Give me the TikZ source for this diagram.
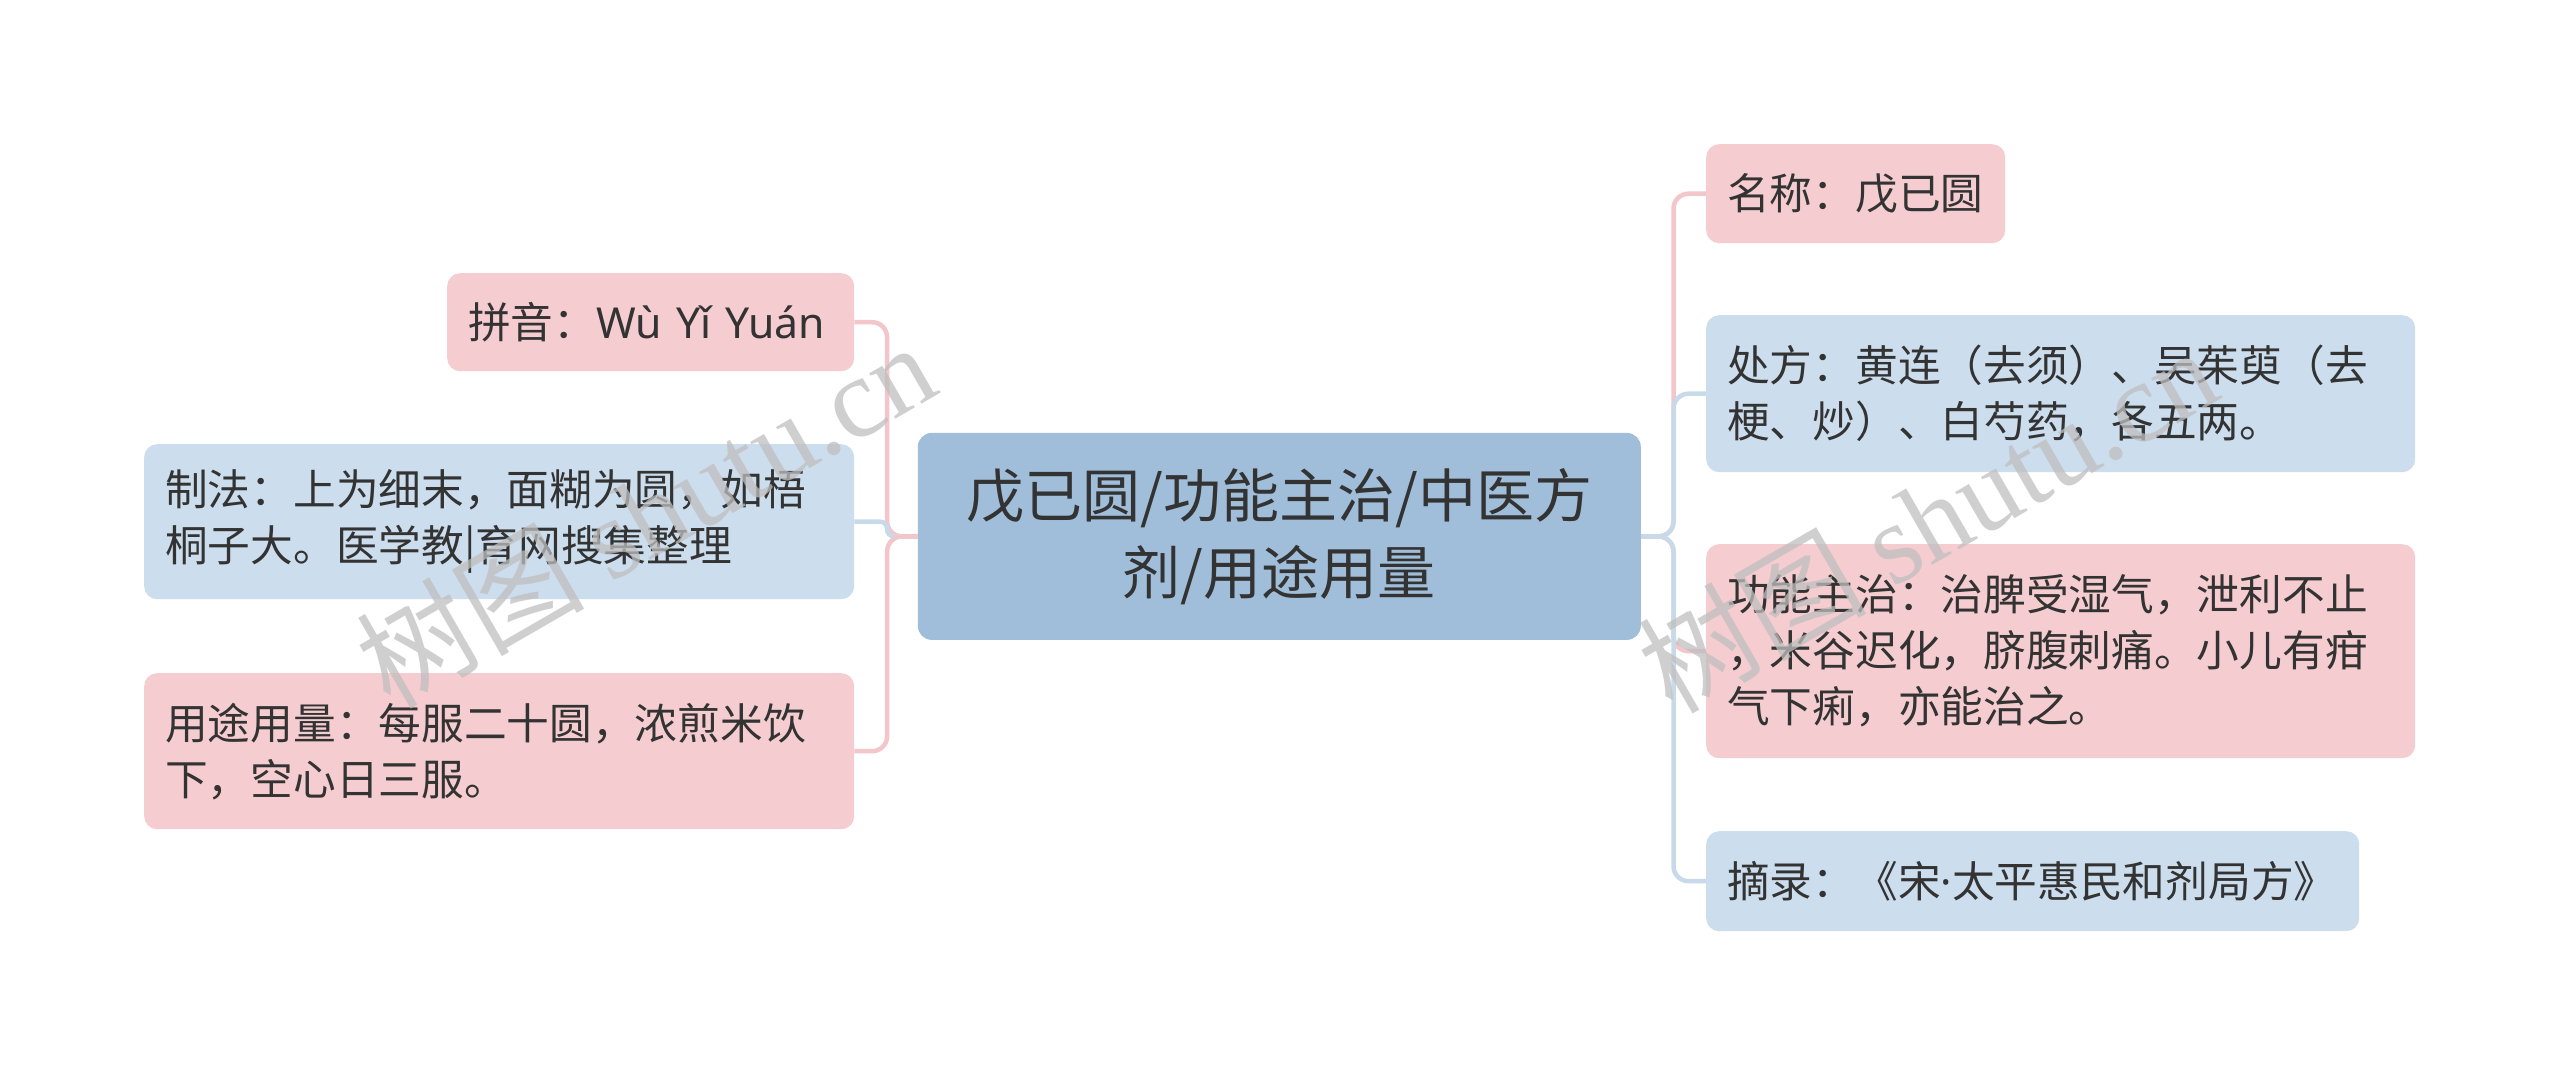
\documentclass[tikz,border=0pt]{standalone}
\usepackage{fontspec}
\setmainfont{Noto Sans CJK SC}
\newfontfamily\wmlatin{Liberation Serif}
\newfontfamily\latinsans{Noto Sans}
\usetikzlibrary{calc}
\definecolor{pinkfill}{HTML}{F5CDD0}
\definecolor{bluefill}{HTML}{CCDDED}
\definecolor{mainfill}{HTML}{A0BED9}
\definecolor{pinkline}{HTML}{F2C6CA}
\definecolor{blueline}{HTML}{C8DAEA}
\definecolor{txt}{HTML}{333333}
\tikzset{
  leaf/.style={rounded corners=13pt, inner xsep=21pt, inner ysep=0pt, align=left,
    anchor=north west, text=txt, font=\fontsize{42.7pt}{56pt}\selectfont},
  pinkleaf/.style={leaf, fill=pinkfill},
  blueleaf/.style={leaf, fill=bluefill},
  mainbox/.style={rounded corners=14pt, fill=mainfill, align=center, text=txt,
    font=\fontsize{58pt}{77pt}\selectfont},
  pinkconn/.style={draw=pinkline, line width=4.5pt, rounded corners=15pt},
  blueconn/.style={draw=blueline, line width=4.5pt, rounded corners=15pt},
  wmark/.style={text=black!25, opacity=0.75, rotate=30, font=\fontsize{114pt}{114pt}\selectfont}
}
\begin{document}
\begin{tikzpicture}[x=1pt,y=-1pt]
\useasboundingbox[fill=white] (0,0) rectangle (2560,1075);
% central
\node[mainbox, minimum width=723pt, minimum height=207pt] (c) at (1279.3,536.4)
  {戊已圆/功能主治/中医方\\剂/用途用量};
% left
\node[pinkleaf, minimum width=407pt, minimum height=98pt, text width=365pt] (py) at (447,273)
  {拼音：{\latinsans Wù Yǐ Yuán}};
\node[blueleaf, minimum width=710pt, minimum height=155pt, text width=668pt] (zf) at (144,444)
  {制法：上为细末，面糊为圆，如梧\\桐子大。医学教|育网搜集整理};
\node[pinkleaf, minimum width=710pt, minimum height=156pt, text width=668pt] (yt) at (144,673)
  {用途用量：每服二十圆，浓煎米饮\\下，空心日三服。};
% right
\node[pinkleaf, minimum width=299pt, minimum height=99pt, text width=257pt] (mc) at (1706,144)
  {名称：戊已圆};
\node[blueleaf, minimum width=709pt, minimum height=157pt, text width=667pt] (cf) at (1706,315)
  {处方：黄连（去须）、吴茱萸（去\\梗、炒）、白芍药，各五两。};
\node[pinkleaf, minimum width=709pt, minimum height=214pt, text width=667pt] (gn) at (1706,544)
  {功能主治：治脾受湿气，泄利不止\\，米谷迟化，脐腹刺痛。小儿有疳\\气下痢，亦能治之。};
\node[blueleaf, minimum width=653pt, minimum height=100pt, text width=611pt] (zl) at (1706,831)
  {摘录：《宋{\latinsans ·}太平惠民和剂局方》};
% connectors left
\draw[pinkconn] (c.west) -| ([xshift=32.7pt]py.east) -- (py.east);
\draw[blueconn, rounded corners=7pt] (c.west) -| ([xshift=32.7pt]zf.east) -- (zf.east);
\draw[pinkconn] (c.west) -| ([xshift=32.7pt]yt.east) -- (yt.east);
% connectors right
\draw[pinkconn] (c.east) -| ([xshift=-32.5pt]mc.west) -- (mc.west);
\draw[blueconn] (c.east) -| ([xshift=-32.5pt]cf.west) -- (cf.west);
\draw[pinkconn] (c.east) -| ([xshift=-32.5pt]gn.west) -- (gn.west);
\draw[blueconn] (c.east) -| ([xshift=-32.5pt]zl.west) -- (zl.west);
% watermarks
\node[wmark] (wm1) at (645,514) {树图 {\wmlatin shutu.cn}};
\node[wmark] (wm2) at (1927,519) {树图 {\wmlatin shutu.cn}};
\end{tikzpicture}
\end{document}
